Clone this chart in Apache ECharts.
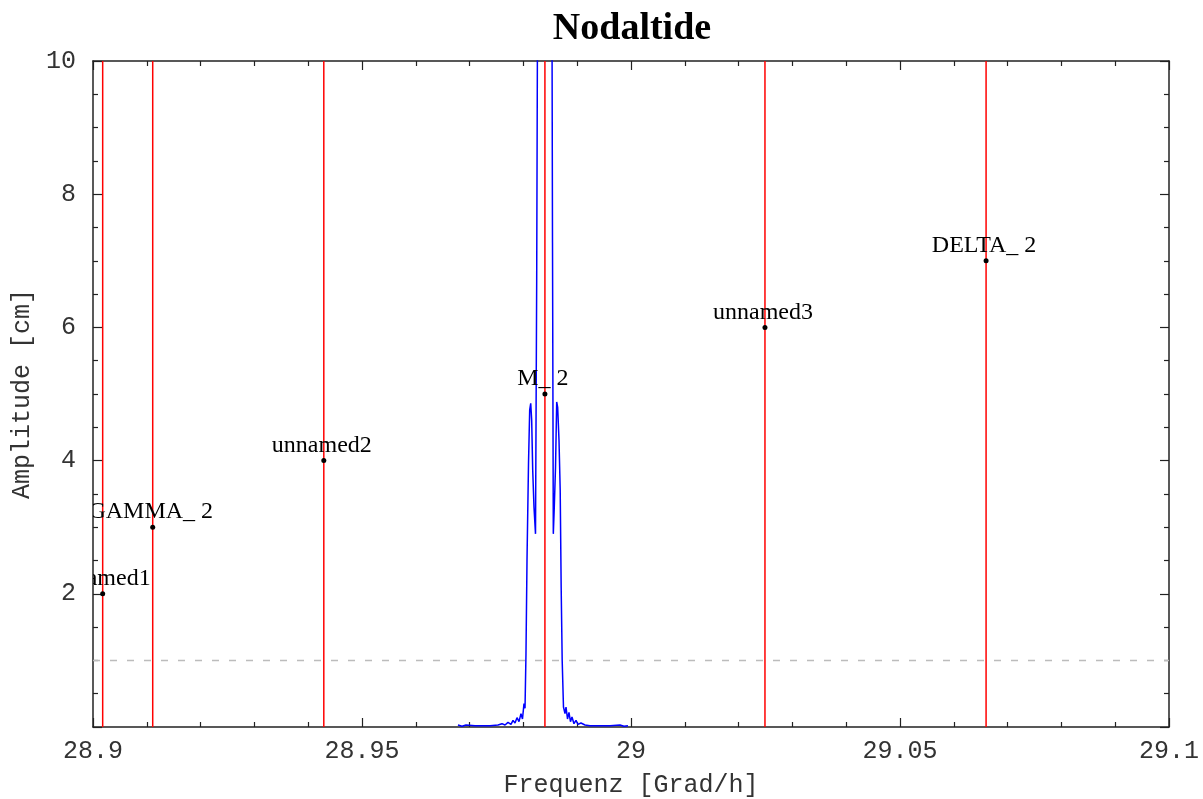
<!DOCTYPE html>
<html>
<head>
<meta charset="utf-8">
<script src="https://cdn.jsdelivr.net/npm/echarts@6/dist/echarts.min.js"></script>
<style>
html,body{margin:0;padding:0;background:#fff;}
#chart{width:1203px;height:799px;}
</style>
</head>
<body>
<div id="chart"></div>
<script>
// Spectrum (blue line): frequency [Grad/h] and amplitude [cm]
const specFreq = [
  28.96784, 28.96859, 28.96933, 28.97100, 28.97379, 28.97528, 28.97602, 28.97658,
  28.97714, 28.97769, 28.97807, 28.97844, 28.97881, 28.97918, 28.97955, 28.97983,
  28.98011, 28.98030, 28.98048, 28.98067, 28.98095, 28.98117, 28.98136, 28.98154,
  28.98173, 28.98197, 28.98225, 28.98247, 28.98275, 28.98327, 28.98383, 28.98439,
  28.98522, 28.98541, 28.98556, 28.98574, 28.98597, 28.98619, 28.98637, 28.98662,
  28.98684, 28.98702, 28.98721, 28.98745, 28.98773, 28.98792, 28.98820, 28.98847,
  28.98875, 28.98903, 28.98940, 28.98978, 28.99015, 28.99070, 28.99145, 28.99238,
  28.99424, 28.99610, 28.99795, 28.99870, 28.99944
];
const specAmp = [
  0.03, 0.01, 0.03, 0.02, 0.02, 0.03, 0.05, 0.03,
  0.07, 0.04, 0.10, 0.06, 0.14, 0.08, 0.20, 0.12,
  0.35, 0.28, 1.10, 2.50, 3.96, 4.76, 4.86, 4.60,
  3.86, 3.30, 2.90, 6.70, 14.0, 26.0, 30.0, 26.0,
  14.0, 7.27, 2.90, 3.30, 3.90, 4.88, 4.80, 4.30,
  3.56, 2.10, 1.00, 0.30, 0.20, 0.30, 0.12, 0.22,
  0.08, 0.15, 0.05, 0.10, 0.04, 0.06, 0.03, 0.02,
  0.02, 0.02, 0.03, 0.01, 0.02
];
// Tidal constituents (red lines + labelled points)
const tideNames = ['unnamed1', 'GAMMA_ 2', 'unnamed2', 'M_ 2', 'unnamed3', 'DELTA_ 2'];
const tideFreq  = [28.9018, 28.9111, 28.9429, 28.9840, 29.0249, 29.0660];
const tideAmp   = [2, 3, 4, 5, 6, 7];
// Reference threshold (dashed line)
const thresholdAmp = 1;
// Axes
const xMin = 28.9, xMax = 29.1, xStep = 0.05;
const yMin = 0, yMax = 10, yStep = 2;

const chart = echarts.init(document.getElementById('chart'));
const monoFont = 'Liberation Mono';
const axisCol = '#222';

function baseX(pos, showLabel) {
  return {
    type: 'value', position: pos, min: xMin, max: xMax, interval: xStep,
    axisLine: {show: true, onZero: false, lineStyle: {color: axisCol, width: 1.5}},
    axisTick: {show: true, inside: true, length: 9, lineStyle: {color: axisCol, width: 1.2}},
    minorTick: {show: true, splitNumber: 5, length: 5, lineStyle: {color: axisCol, width: 1.2}},
    splitLine: {show: false},
    axisLabel: {show: showLabel, margin: 12, color: '#333', fontFamily: monoFont, fontSize: 25,
      formatter: v => String(parseFloat(v.toFixed(2)))}
  };
}
function baseY(pos, showLabel) {
  return {
    type: 'value', position: pos, min: yMin, max: yMax, interval: yStep,
    axisLine: {show: true, onZero: false, lineStyle: {color: axisCol, width: 1.5}},
    axisTick: {show: true, inside: true, length: 9, lineStyle: {color: axisCol, width: 1.2}},
    minorTick: {show: true, splitNumber: 4, length: 5, lineStyle: {color: axisCol, width: 1.2}},
    splitLine: {show: false},
    axisLabel: {show: showLabel, margin: 17, color: '#333', fontFamily: monoFont, fontSize: 25,
      formatter: v => (v === 0 ? '' : String(v))}
  };
}

const xBottom = Object.assign(baseX('bottom', true), {
  name: 'Frequenz [Grad/h]', nameLocation: 'middle', nameGap: 46,
  nameTextStyle: {fontFamily: monoFont, fontSize: 25, color: '#333'}
});
const xTop = baseX('top', false);
const yLeft = Object.assign(baseY('left', true), {
  name: 'Amplitude [cm]', nameLocation: 'middle', nameGap: 56, nameRotate: 90,
  nameTextStyle: {fontFamily: monoFont, fontSize: 25, color: '#333'}
});
const yRight = baseY('right', false);

const option = {
  backgroundColor: '#fff',
  animation: false,
  title: {
    text: 'Nodaltide', left: 627, top: 5, textAlign: 'center',
    textStyle: {fontFamily: 'Liberation Serif', fontWeight: 'bold', fontSize: 38, color: '#000'}
  },
  grid: {left: 93, right: 34, top: 61, bottom: 72, containLabel: false, outerBoundsMode: 'none'},
  xAxis: [xBottom, xTop],
  yAxis: [yLeft, yRight],
  series: [
    {
      type: 'line', xAxisIndex: 0, yAxisIndex: 0,
      data: specFreq.map((f, i) => [f, specAmp[i]]),
      showSymbol: false, clip: true,
      lineStyle: {color: '#0000ff', width: 1.5},
      markLine: {
        silent: true, symbol: ['none', 'none'], label: {show: false},
        lineStyle: {color: '#bcbcbc', type: [7, 10], width: 1.4},
        data: [{yAxis: thresholdAmp}]
      },
      z: 2
    },
    {
      type: 'custom', xAxisIndex: 0, yAxisIndex: 0, clip: true, z: 3,
      data: tideFreq.map((f, i) => [f, tideAmp[i]]),
      renderItem: function (params, api) {
        const f = api.value(0);
        const p0 = api.coord([f, yMin]);
        const p1 = api.coord([f, yMax]);
        return {type: 'line', shape: {x1: p0[0], y1: p0[1], x2: p1[0], y2: p1[1]},
          style: {stroke: '#ff0000', lineWidth: 1.5}};
      }
    },
    {
      type: 'custom', xAxisIndex: 0, yAxisIndex: 0, clip: true, z: 4,
      data: tideFreq.map((f, i) => [f, tideAmp[i]]),
      renderItem: function (params, api) {
        const p = api.coord([api.value(0), api.value(1)]);
        return {
          type: 'group',
          children: [
            {type: 'circle', shape: {cx: p[0], cy: p[1], r: 2.5}, style: {fill: '#000'}},
            {type: 'text', x: p[0] - 2, y: p[1] - 3,
              style: {text: tideNames[params.dataIndex], fontFamily: 'Liberation Serif',
                fontSize: 24, fill: '#000', align: 'center', verticalAlign: 'bottom'}}
          ]
        };
      }
    }
  ]
};
chart.setOption(option);
</script>
</body>
</html>
